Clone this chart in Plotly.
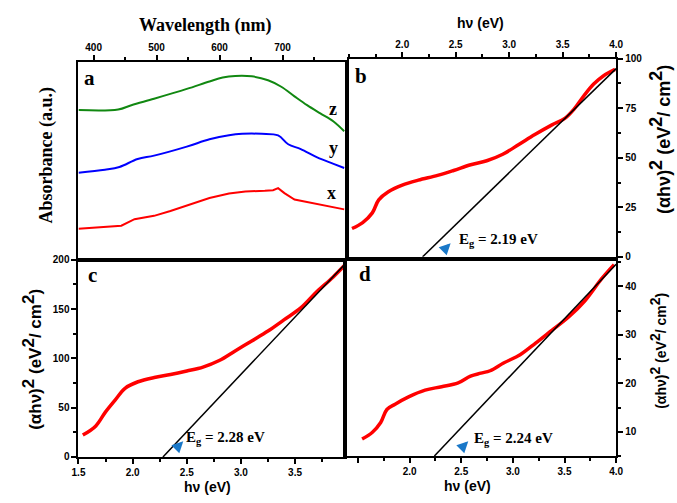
import plotly.graph_objects as go

# ---- Panel a: absorbance spectra (wavelength in nm, absorbance in a.u.) ----
wl_z = [376, 439, 460, 496, 548, 584, 605, 625, 651, 677, 698, 719, 739, 760, 781, 798]
abs_z = [0.753, 0.756, 0.778, 0.811, 0.861, 0.899, 0.919, 0.927, 0.925, 0.905, 0.872,
         0.823, 0.778, 0.736, 0.695, 0.645]

wl_y = [376, 418, 441, 470, 496, 548, 584, 615, 636, 667, 693, 709, 729, 755, 781, 798]
abs_y = [0.434, 0.449, 0.463, 0.504, 0.521, 0.567, 0.604, 0.625, 0.632, 0.632, 0.624,
         0.579, 0.554, 0.512, 0.479, 0.458]

wl_x = [376, 418, 444, 465, 496, 522, 553, 584, 615, 641, 672, 685, 693, 703, 719, 745, 770, 798]
abs_x = [0.148, 0.156, 0.164, 0.197, 0.214, 0.239, 0.272, 0.305, 0.328, 0.338, 0.342,
         0.345, 0.355, 0.330, 0.297, 0.280, 0.264, 0.247]

# ---- Panels b, c, d: Tauc plots (photon energy in eV) ----
hv_b = [1.53, 1.63, 1.72, 1.78, 1.87, 2.00, 2.15, 2.33, 2.48, 2.64, 2.79, 2.94, 3.09,
        3.24, 3.40, 3.52, 3.61, 3.70, 3.79, 3.88, 3.99]
tauc_b = [14.3, 17.3, 22.2, 28.8, 32.9, 36.2, 38.7, 41.1, 43.6, 46.5, 48.5, 51.8, 56.7,
          61.7, 66.6, 69.9, 74.8, 81.4, 87.2, 91.3, 94.6]

hv_c = [1.54, 1.66, 1.75, 1.84, 1.93, 2.05, 2.20, 2.35, 2.50, 2.65, 2.80, 2.95, 3.10,
        3.25, 3.40, 3.55, 3.70, 3.85, 3.96]
tauc_c = [22.2, 31.5, 45.8, 58.0, 69.7, 76.3, 80.6, 83.6, 87.2, 91.2, 97.8, 107.8, 117.7,
          127.7, 139.3, 150.9, 167.5, 182.4, 194.7]

hv_d = [1.54, 1.64, 1.72, 1.78, 1.86, 1.99, 2.15, 2.31, 2.47, 2.59, 2.69, 2.78, 2.91,
        3.07, 3.22, 3.38, 3.54, 3.70, 3.86, 3.98]
tauc_d = [8.5, 9.9, 11.9, 14.6, 15.7, 17.2, 18.6, 19.3, 20.1, 21.5, 22.1, 22.6, 24.2,
          25.9, 28.3, 31.0, 33.7, 37.1, 41.6, 44.5]

# Band-gap values and the end points of the linear extrapolations
eg_b, eg_c, eg_d = 2.19, 2.28, 2.24
fit_b_x, fit_b_y = [eg_b, 4.0], [0, 95.0]
fit_c_x, fit_c_y = [eg_c, 3.96], [0, 195.5]
fit_d_x, fit_d_y = [eg_d, 4.0], [5.0, 44.6]

W, H = 677, 503


def px(x):
    return x / W


def py(y):
    return 1 - y / H


RED = "#ff0000"
SANS = "Liberation Sans"
SERIF = "Liberation Serif"
tickfont = dict(family=SANS, size=10, color="black", weight="bold")

fig = go.Figure()

# panel a
fig.add_trace(go.Scatter(x=wl_z, y=abs_z, mode="lines", line=dict(color="#118811", width=2),
                         xaxis="x", yaxis="y", line_shape="spline"))
fig.add_trace(go.Scatter(x=wl_y, y=abs_y, mode="lines", line=dict(color="#0000ff", width=2),
                         xaxis="x", yaxis="y", line_shape="spline"))
fig.add_trace(go.Scatter(x=wl_x, y=abs_x, mode="lines", line=dict(color=RED, width=2),
                         xaxis="x", yaxis="y"))

# panel b
fig.add_trace(go.Scatter(x=hv_b, y=tauc_b, mode="lines", line=dict(color=RED, width=3.5),
                         xaxis="x2", yaxis="y2", line_shape="spline"))
fig.add_trace(go.Scatter(x=fit_b_x, y=fit_b_y, mode="lines", line=dict(color="black", width=1.5),
                         xaxis="x2", yaxis="y2"))
# panel c
fig.add_trace(go.Scatter(x=hv_c, y=tauc_c, mode="lines", line=dict(color=RED, width=3.5),
                         xaxis="x3", yaxis="y3", line_shape="spline"))
fig.add_trace(go.Scatter(x=fit_c_x, y=fit_c_y, mode="lines", line=dict(color="black", width=1.5),
                         xaxis="x3", yaxis="y3"))
# panel d
fig.add_trace(go.Scatter(x=hv_d, y=tauc_d, mode="lines", line=dict(color=RED, width=3.5),
                         xaxis="x4", yaxis="y4", line_shape="spline"))
fig.add_trace(go.Scatter(x=fit_d_x, y=fit_d_y, mode="lines", line=dict(color="black", width=1.5),
                         xaxis="x4", yaxis="y4"))

common = dict(showline=True, linecolor="black", linewidth=2, mirror=True,
              showgrid=False, zeroline=False, ticks="outside", ticklen=5,
              tickwidth=2, tickcolor="black", tickfont=tickfont, fixedrange=True)


def minor(dt):
    return dict(ticks="outside", ticklen=3, tickwidth=2, tickcolor="black", dtick=dt,
                showgrid=False)


dom_ax = [px(73), px(345)]
dom_bx = [px(349), px(622)]
dom_dx = [px(345), px(622)]
dom_top_a = [py(260), py(57)]
dom_top_b = [py(257), py(54)]
dom_bot_c = [py(462), py(260)]
dom_bot_d = [py(461), py(261)]

fig.update_layout(
    width=W, height=H, margin=dict(l=0, r=0, t=0, b=0),
    paper_bgcolor="white", plot_bgcolor="white", showlegend=False,
    font=dict(color="black", family=SANS),
    xaxis=dict(common, domain=dom_ax, anchor="y", side="top", range=[376, 799],
               tickvals=[400, 500, 600, 700], ticktext=["400", "500", "600", "700"],
               minor=minor(50)),
    yaxis=dict(common, domain=dom_top_a, anchor="x", range=[-0.01, 1.0],
               ticks="", showticklabels=False),
    xaxis2=dict(common, domain=dom_bx, anchor="y2", side="top", range=[1.5, 4.0],
                tickvals=[2.0, 2.5, 3.0, 3.5, 4.0], tickformat=".1f", minor=minor(0.25)),
    yaxis2=dict(common, domain=dom_top_b, anchor="x2", side="right", range=[0, 100],
                tickvals=[0, 25, 50, 75, 100], minor=minor(12.5)),
    xaxis3=dict(common, domain=dom_ax, anchor="y3", range=[1.5, 3.96],
                tickvals=[1.5, 2.0, 2.5, 3.0, 3.5], tickformat=".1f", minor=minor(0.25)),
    yaxis3=dict(common, domain=dom_bot_c, anchor="x3", range=[0, 200],
                tickvals=[0, 50, 100, 150, 200], minor=minor(25)),
    xaxis4=dict(common, domain=dom_dx, anchor="y4", range=[1.373, 4.0],
                tickvals=[1.5, 2.0, 2.5, 3.0, 3.5, 4.0],
                ticktext=["", "2.0", "2.5", "3.0", "3.5", "4.0"], minor=minor(0.25)),
    yaxis4=dict(common, domain=dom_bot_d, anchor="x4", side="right", range=[5, 45.3],
                tickvals=[10, 20, 30, 40], minor=minor(5)),
)


def tauc_title(size):
    # full-size raised exponents
    s = f'<sup><span style="font-size:{size}px">2</span></sup>'
    return f"(αhν){s} (eV{s}/ cm{s})"


annotations = [
    # axis titles
    dict(x=px(203), y=py(20), text="Wavelength (nm)",
         font=dict(family=SERIF, size=18, weight="bold")),
    dict(x=px(40), y=py(153), text="Absorbance (a.u.)", textangle=-90,
         font=dict(family=SERIF, size=18, weight="bold")),
    dict(x=px(484), y=py(17), text="hν (eV)",
         font=dict(family=SANS, size=14, weight="bold")),
    dict(x=px(205), y=py(493), text="hν (eV)",
         font=dict(family=SANS, size=14, weight="bold")),
    dict(x=px(470), y=py(492), text="hν (eV)",
         font=dict(family=SANS, size=14, weight="bold")),
    dict(x=px(667), y=py(137), text=tauc_title(18), textangle=-90,
         font=dict(family=SANS, size=18, weight="bold")),
    dict(x=px(26), y=py(362), text=tauc_title(17), textangle=-90,
         font=dict(family=SANS, size=17, weight="bold")),
    dict(x=px(664), y=py(353), text=tauc_title(14), textangle=-90,
         font=dict(family=SANS, size=14, weight="bold")),
    # panel letters
    dict(x=px(84), y=py(74), text="a", font=dict(family=SERIF, size=21, weight="bold")),
    dict(x=px(361), y=py(72), text="b", font=dict(family=SERIF, size=21, weight="bold")),
    dict(x=px(87), y=py(276), text="c", font=dict(family=SERIF, size=21, weight="bold")),
    dict(x=px(366), y=py(275), text="d", font=dict(family=SERIF, size=21, weight="bold")),
    # sample labels
    dict(x=px(333), y=py(106), text="z", font=dict(family=SERIF, size=18, weight="bold")),
    dict(x=px(333), y=py(145), text="y", font=dict(family=SERIF, size=18, weight="bold")),
    dict(x=px(331), y=py(192), text="x", font=dict(family=SERIF, size=18, weight="bold")),
    # band-gap labels
    dict(x=px(460), y=py(240), xanchor="left", text=f"E<sub>g</sub> = {eg_b:.2f} eV",
         font=dict(family=SERIF, size=15, weight="bold")),
    dict(x=px(181), y=py(443), xanchor="left", text=f"E<sub>g</sub> = {eg_c:.2f} eV",
         font=dict(family=SERIF, size=15, weight="bold")),
    dict(x=px(475), y=py(444), xanchor="left", text=f"E<sub>g</sub> = {eg_d:.2f} eV",
         font=dict(family=SERIF, size=15, weight="bold")),
]
for a in annotations:
    a.setdefault("xanchor", "center")
    a.update(xref="paper", yref="paper", showarrow=False, yanchor="middle")
    a["font"]["color"] = "black"

# small blue pointer arrows next to the band-gap labels
for hx, hy in [(453, 243), (180, 446), (471, 446)]:
    annotations.append(dict(x=px(hx), y=py(hy), xref="paper", yref="paper", text="",
                            showarrow=True, arrowhead=2, arrowsize=0.9, arrowwidth=2.5,
                            arrowcolor="#1a78c8", ax=-9, ay=9))

fig.update_layout(annotations=annotations)
fig.write_html("out.html")
